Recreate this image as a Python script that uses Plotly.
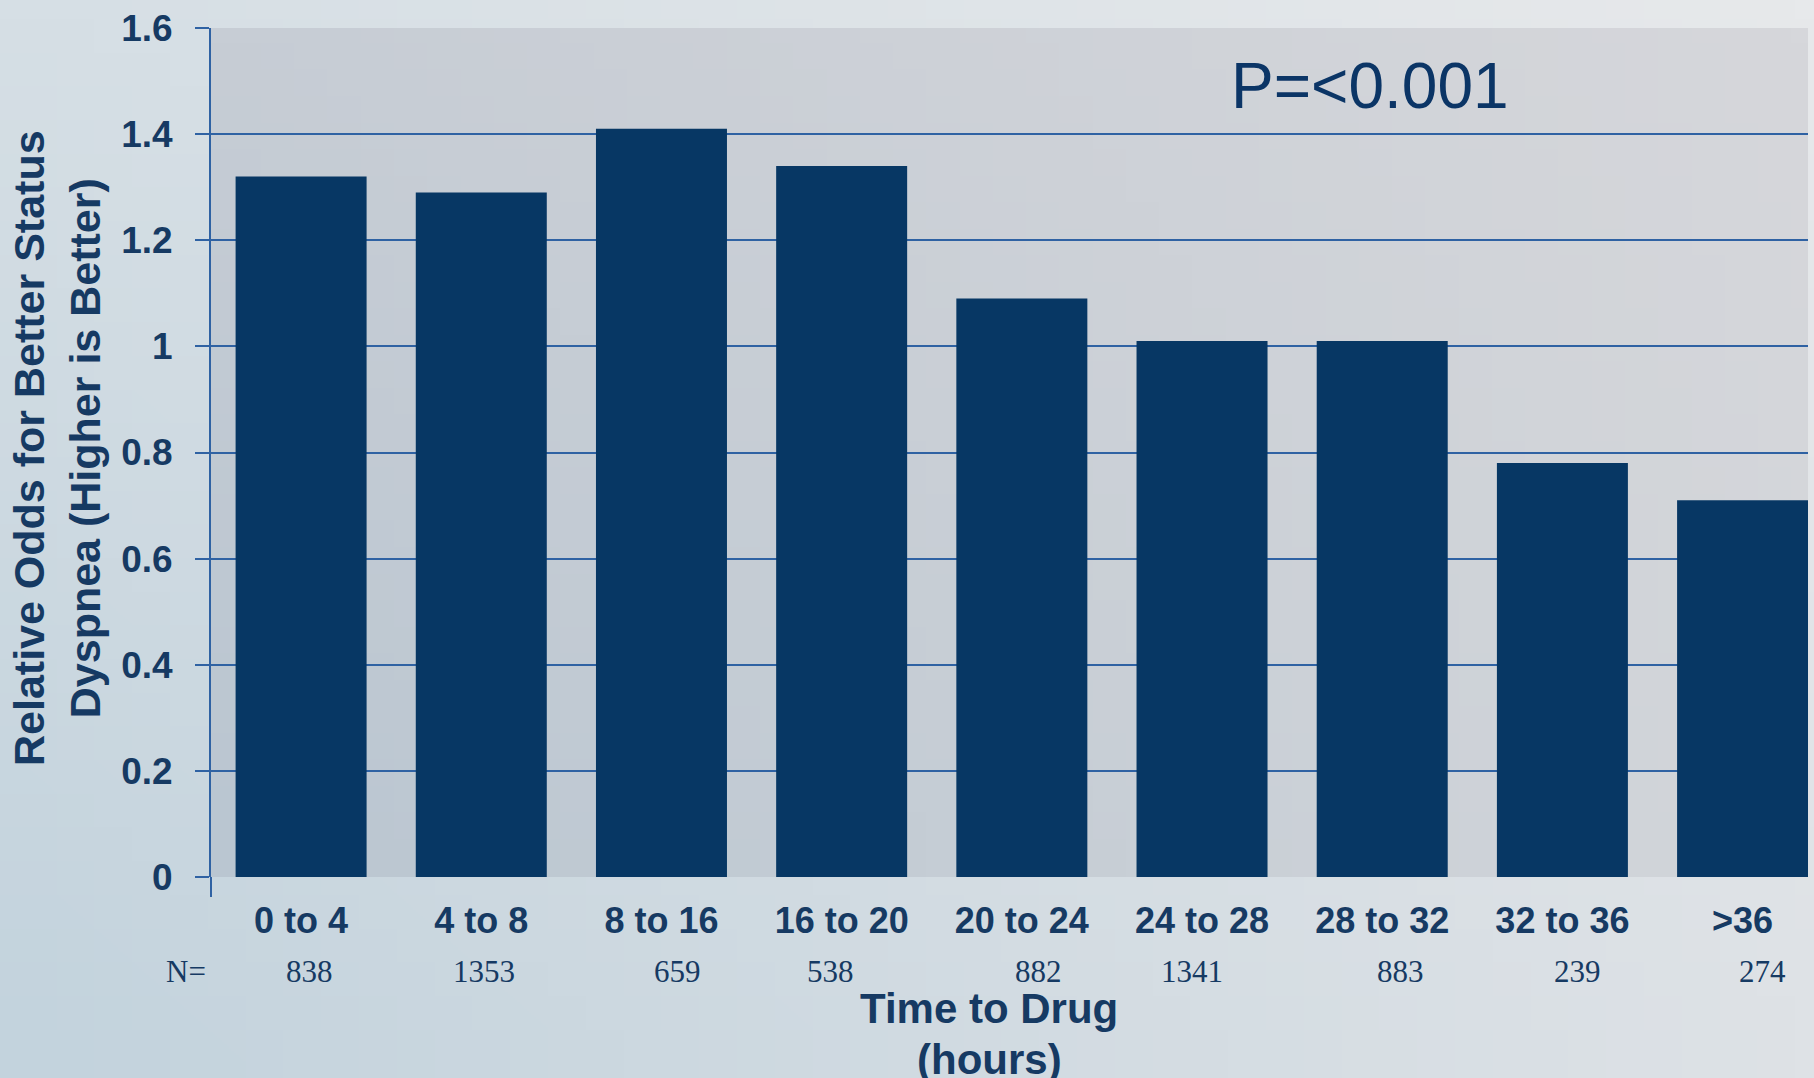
import base64
import struct
import zlib

import numpy as np
import plotly.graph_objects as go

# ---- data -------------------------------------------------------------
categories = ["0 to 4", "4 to 8", "8 to 16", "16 to 20", "20 to 24",
              "24 to 28", "28 to 32", "32 to 36", ">36"]
relative_odds = [1.32, 1.29, 1.41, 1.34, 1.09, 1.01, 1.01, 0.78, 0.71]
n_patients = ["838", "1353", "659", "538", "882", "1341", "883", "239", "274"]
y_ticks = [0, 0.2, 0.4, 0.6, 0.8, 1, 1.2, 1.4, 1.6]
y_tick_text = ["0", "0.2", "0.4", "0.6", "0.8", "1", "1.2", "1.4", "1.6"]
p_value_text = "P=<0.001"

# ---- styling ----------------------------------------------------------
W, H = 1814, 1078
M_L, M_R, M_T, M_B = 211, 6, 28, 201
BAR = "#073764"
GRID = "#2F62A3"
INK = "#163A63"
# small horizontal offsets of the N= counts under each bar (px)
n_shift = [8, 3, 16, -11, 17, -10, 18, 15, 20]


def gradient_png(tl, tr, bl, br, w=48, h=32):
    """Bilinear four-corner gradient encoded as a PNG data URI."""
    tl, tr, bl, br = (np.array(c, dtype=float) for c in (tl, tr, bl, br))
    u = np.linspace(0, 1, w)[None, :, None]
    v = np.linspace(0, 1, h)[:, None, None]
    top = tl * (1 - u) + tr * u
    bot = bl * (1 - u) + br * u
    img = np.clip(top * (1 - v) + bot * v, 0, 255).astype(np.uint8)
    raw = b"".join(b"\x00" + img[r].tobytes() for r in range(h))

    def chunk(tag, data):
        body = tag + data
        return (struct.pack(">I", len(data)) + body
                + struct.pack(">I", zlib.crc32(body) & 0xFFFFFFFF))

    png = (b"\x89PNG\r\n\x1a\n"
           + chunk(b"IHDR", struct.pack(">IIBBBBB", w, h, 8, 2, 0, 0, 0))
           + chunk(b"IDAT", zlib.compress(raw, 9))
           + chunk(b"IEND", b""))
    return "data:image/png;base64," + base64.b64encode(png).decode()


page_bg = gradient_png((214, 223, 229), (231, 233, 235),
                       (195, 211, 221), (222, 226, 230))
plot_bg = gradient_png((199, 205, 213), (214, 215, 219),
                       (186, 198, 209), (211, 214, 218))

plot_w = W - M_L - M_R
plot_h = H - M_T - M_B


def py(px):
    """Pixel row of the page -> paper y coordinate."""
    return (H - M_B - px) / plot_h


def px_x(px):
    """Pixel column of the page -> paper x coordinate."""
    return (px - M_L) / plot_w


fig = go.Figure(
    go.Bar(
        x=categories,
        y=relative_odds,
        marker=dict(color=BAR, line=dict(width=0)),
        hoverinfo="x+y",
    )
)

serif = dict(family="Liberation Serif", size=31, color=INK)
bold = dict(family="Liberation Sans", size=42, color=INK, weight="bold")

# N= row beneath the category labels
annotations = [
    dict(text="N=", xref="paper", yref="paper", x=px_x(186), y=py(972),
         xanchor="center", yanchor="middle", showarrow=False, font=serif)
]
for cat, n, dx in zip(categories, n_patients, n_shift):
    annotations.append(
        dict(text=n, xref="x", yref="paper", x=cat, xshift=dx, y=py(972),
             xanchor="center", yanchor="middle", showarrow=False, font=serif)
    )

# x axis title, two lines
annotations.append(
    dict(text="Time to Drug", xref="paper", yref="paper", x=px_x(989),
         y=py(1008), xanchor="center", yanchor="middle", showarrow=False,
         font=bold)
)
annotations.append(
    dict(text="(hours)", xref="paper", yref="paper", x=px_x(989),
         y=py(1059), xanchor="center", yanchor="middle", showarrow=False,
         font=bold)
)
# y axis title
annotations.append(
    dict(text="Relative Odds for Better Status<br>Dyspnea (Higher is Better)",
         xref="paper", yref="paper", x=px_x(57), y=py(448),
         xanchor="center", yanchor="middle", textangle=-90,
         showarrow=False, align="center",
         font=dict(family="Liberation Sans", size=43, color=INK,
                   weight="bold"))
)
# significance label
annotations.append(
    dict(text=p_value_text, xref="paper", yref="paper", x=px_x(1370),
         y=py(86), xanchor="center", yanchor="middle", showarrow=False,
         font=dict(family="Liberation Sans", size=64, color="#0B3566"))
)

fig.update_layout(
    width=W,
    height=H,
    margin=dict(l=M_L, r=M_R, t=M_T, b=M_B, pad=0),
    paper_bgcolor="#D3DCE2",
    plot_bgcolor="rgba(0,0,0,0)",
    showlegend=False,
    bargap=0.273,
    annotations=annotations,
    images=[
        dict(source=page_bg, xref="paper", yref="paper",
             x=-M_L / plot_w, y=1 + M_T / plot_h,
             sizex=W / plot_w, sizey=H / plot_h,
             sizing="stretch", layer="below", xanchor="left", yanchor="top"),
        dict(source=plot_bg, xref="paper", yref="paper", x=0, y=1,
             sizex=1, sizey=1, sizing="stretch", layer="below",
             xanchor="left", yanchor="top"),
    ],
    shapes=[
        # short category tick below the origin
        dict(type="line", xref="paper", yref="paper", x0=0, x1=0,
             y0=0, y1=-20 / plot_h, line=dict(color=GRID, width=2)),
    ],
    xaxis=dict(
        type="category",
        range=[-0.5, 8.363],
        showgrid=False,
        zeroline=False,
        showline=False,
        ticks="",
        tickfont=dict(family="Liberation Sans", size=36, color=INK,
                      weight="bold"),
        ticklabelstandoff=19,
        fixedrange=True,
    ),
    yaxis=dict(
        range=[0, 1.6],
        tickvals=y_ticks,
        ticktext=y_tick_text,
        showgrid=True,
        gridcolor=GRID,
        gridwidth=2,
        zeroline=False,
        showline=True,
        linecolor=GRID,
        linewidth=2,
        ticks="outside",
        ticklen=14,
        tickwidth=2,
        tickcolor=GRID,
        ticklabelstandoff=15,
        tickfont=dict(family="Liberation Sans", size=37, color=INK,
                      weight="bold"),
        fixedrange=True,
    ),
)

fig.write_html("out.html")
